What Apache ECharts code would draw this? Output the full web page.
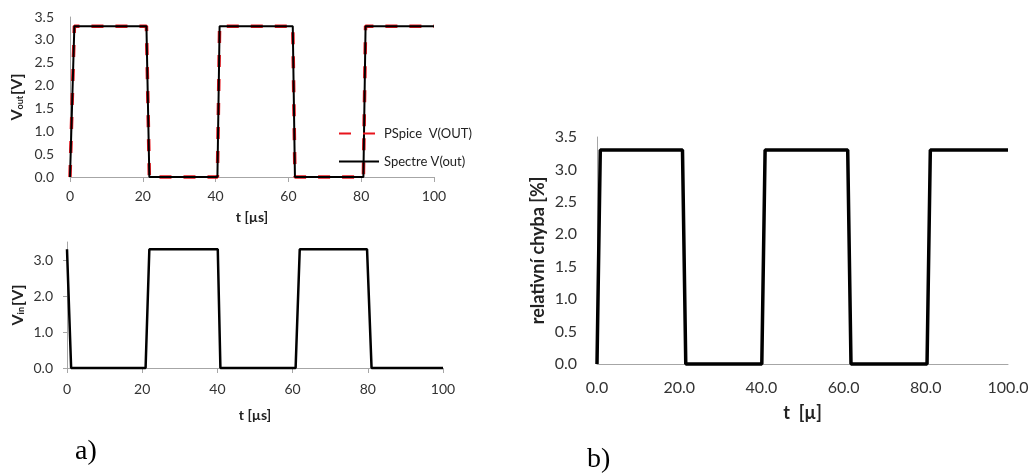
<!DOCTYPE html>
<html>
<head>
<meta charset="utf-8">
<script src="https://cdn.jsdelivr.net/npm/echarts@6/dist/echarts.min.js"></script>
<style>html,body{margin:0;padding:0;background:#fff}#c{width:1035px;height:474px}</style>
</head>
<body>
<div id="c"></div>
<script>
// ---- data ----
// a) top: output voltage
var tOut     = [0, 1.2, 21.0, 21.8, 40.5, 41.1, 61.2, 61.8, 80.6, 81.2, 100];
var vPspice  = [0, 3.3, 3.3, 0, 0, 3.3, 3.3, 0, 0, 3.3, 3.3];
var vSpectre = [0, 3.3, 3.3, 0, 0, 3.3, 3.3, 0, 0, 3.3, 3.3];
// a) bottom: input voltage
var tIn = [0, 1.1, 20.9, 21.9, 40.1, 40.8, 60.8, 61.9, 79.8, 81.0, 100];
var vIn = [3.3, 0, 0, 3.3, 3.3, 0, 0, 3.3, 3.3, 0, 0];
// b) relative error
var tErr = [0, 0.8, 20.8, 21.6, 40.1, 40.9, 61.0, 61.8, 80.3, 81.1, 100];
var err  = [0, 3.3, 3.3, 0, 0, 3.3, 3.3, 0, 0, 3.3, 3.3];
var seriesNames = ['PSpice  V(OUT)', 'Spectre V(out)'];
var panelLabels = ['a)', 'b)'];

function pairs(xs, ys) { return xs.map(function (x, i) { return [x, ys[i]]; }); }

var FONT = 'Lato';
var LBL = '#333';
var AX = '#a6a6a6';

function xAxisCfg(gi, name, opts) {
  return Object.assign({
    type: 'value', gridIndex: gi, min: 0, max: 100, interval: 20,
    name: name, nameLocation: 'middle', nameGap: 33,
    nameTextStyle: { fontFamily: FONT, fontWeight: 'bold', fontSize: 14, color: '#222' },
    axisLine: { show: true, lineStyle: { color: AX, width: 1 } },
    axisTick: { show: true, length: 5, lineStyle: { color: AX } },
    axisLabel: { fontFamily: FONT, fontSize: 14, color: LBL, margin: 12 },
    splitLine: { show: false }
  }, opts || {});
}
function yAxisCfg(gi, opts) {
  return Object.assign({
    type: 'value', gridIndex: gi, min: 0, max: 3.5, interval: 0.5,
    nameLocation: 'middle', nameRotate: 90,
    axisLine: { show: true, lineStyle: { color: AX, width: 1 } },
    axisTick: { show: false },
    axisLabel: { fontFamily: FONT, fontSize: 14, color: LBL, margin: 16,
      formatter: function (v) { return v.toFixed(1); } },
    splitLine: { show: false }
  }, opts || {});
}

var option = {
  animation: false,
  backgroundColor: '#fff',
  grid: [
    { left: 70, right: 601, top: 17, bottom: 297 },
    { left: 67, right: 592, top: 242, bottom: 106 },
    { left: 597, right: 27, top: 137, bottom: 110 }
  ],
  legend: {
    orient: 'vertical', left: 333, top: 122, itemGap: 15,
    itemWidth: 40, itemHeight: 14,
    itemStyle: { opacity: 0 },
    textStyle: { fontFamily: FONT, fontSize: 13, color: '#222' },
    data: seriesNames
  },
  xAxis: [
    xAxisCfg(0, 't [µs]'),
    xAxisCfg(1, 't [µs]', { nameGap: 40, axisLabel: { fontFamily: FONT, fontSize: 14, color: LBL, margin: 14 } }),
    xAxisCfg(2, 't  [µ]', {
      nameGap: 40,
      nameTextStyle: { fontFamily: FONT, fontWeight: 'bold', fontSize: 18, color: '#222' },
      axisTick: { show: false },
      axisLabel: { fontFamily: FONT, fontSize: 16, color: LBL, margin: 16,
        formatter: function (v) { return v.toFixed(1); } }
    })
  ],
  yAxis: [
    yAxisCfg(0, {
      name: '{b|V}{s|out}{b|[V]}', nameGap: 45,
      nameTextStyle: { rich: {
        b: { fontFamily: FONT, fontWeight: 'bold', fontSize: 16, color: '#222' },
        s: { fontFamily: FONT, fontWeight: 'bold', fontSize: 9, color: '#222', padding: [6, 1, 0, 0] }
      } }
    }),
    yAxisCfg(1, {
      name: '{b|V}{s|in}{b|[V]}', nameGap: 41, interval: 1,
      axisTick: { show: true, length: 4, lineStyle: { color: AX } },
      axisLabel: { fontFamily: FONT, fontSize: 14, color: LBL, margin: 14, showMaxLabel: false,
        formatter: function (v) { return v.toFixed(1); } },
      nameTextStyle: { rich: {
        b: { fontFamily: FONT, fontWeight: 'bold', fontSize: 16, color: '#222' },
        s: { fontFamily: FONT, fontWeight: 'bold', fontSize: 9, color: '#222', padding: [6, 1, 0, 0] }
      } }
    }),
    yAxisCfg(2, {
      name: 'relativní chyba [%]', nameGap: 50,
      nameTextStyle: { fontFamily: FONT, fontWeight: 'bold', fontSize: 18, color: '#222' },
      axisLabel: { fontFamily: FONT, fontSize: 16, color: LBL, margin: 20,
        formatter: function (v) { return v.toFixed(1); } }
    })
  ],
  series: [
    { name: seriesNames[0], type: 'line', xAxisIndex: 0, yAxisIndex: 0, symbol: 'none',
      data: pairs(tOut, vPspice), clip: false,
      lineStyle: { color: '#e8141c', width: 3.5, type: [12, 12] }, itemStyle: { color: '#e8141c' } },
    { name: seriesNames[1], type: 'line', xAxisIndex: 0, yAxisIndex: 0, symbol: 'none',
      data: pairs(tOut, vSpectre), clip: false,
      lineStyle: { color: '#000', width: 2 }, itemStyle: { color: '#000' } },
    { name: 'Vin', type: 'line', xAxisIndex: 1, yAxisIndex: 1, symbol: 'none',
      data: pairs(tIn, vIn), clip: false,
      lineStyle: { color: '#000', width: 2.5 } },
    { name: 'err', type: 'line', xAxisIndex: 2, yAxisIndex: 2, symbol: 'none',
      data: pairs(tErr, err), clip: false,
      lineStyle: { color: '#000', width: 3.5 } }
  ],
  graphic: [
    { type: 'text', left: 75, top: 438, style: { text: panelLabels[0], font: '28px "Liberation Serif"', fill: '#000' } },
    { type: 'text', left: 587, top: 446, style: { text: panelLabels[1], font: '28px "Liberation Serif"', fill: '#000' } }
  ]
};

var chart = echarts.init(document.getElementById('c'), null, { renderer: 'canvas' });
chart.setOption(option);
</script>
</body>
</html>
